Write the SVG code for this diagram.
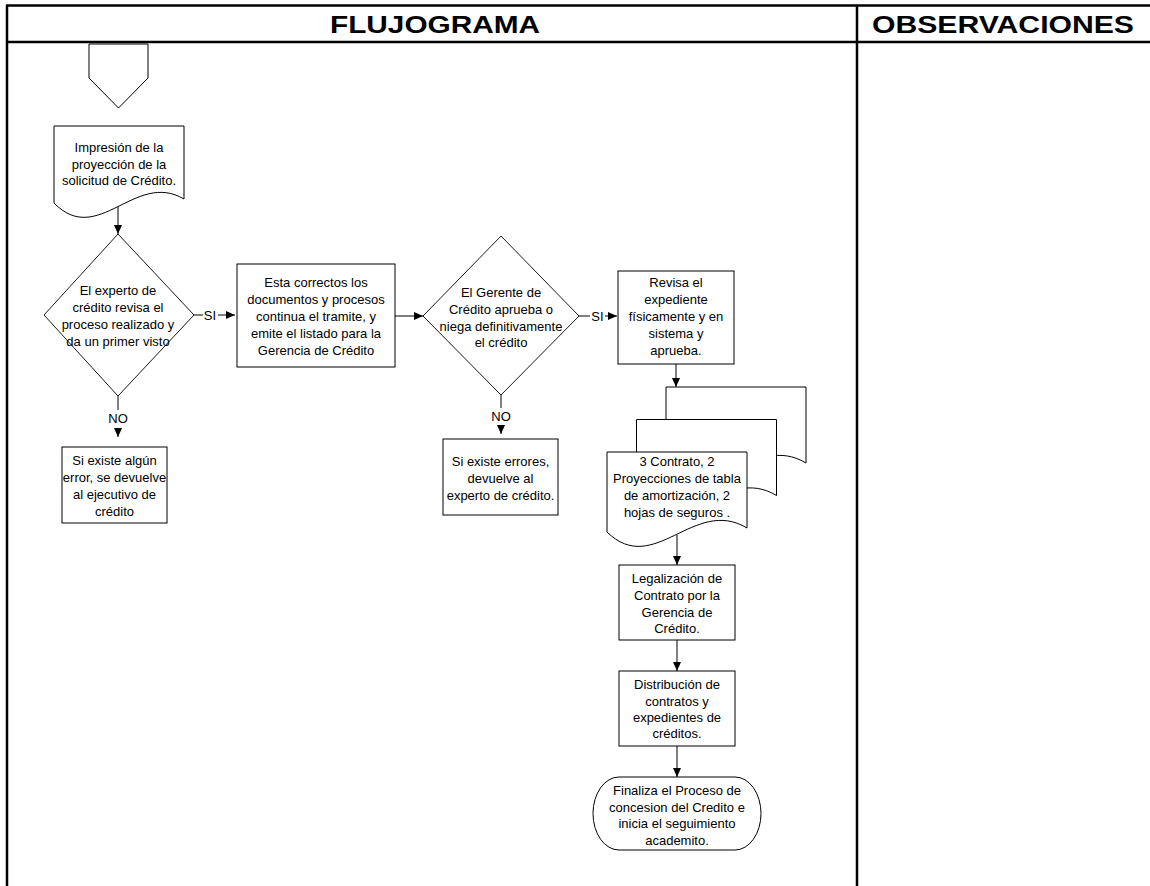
<svg xmlns="http://www.w3.org/2000/svg" width="1150" height="886" viewBox="0 0 1150 886">
  <style>
    .frame { stroke: #000; stroke-width: 2.5; fill: none; }
    .shape { stroke: #000; stroke-width: 1; fill: #fff; }
    .diamond { stroke: #000; stroke-width: 0.9; fill: #fff; }
    .head { font-family: "Liberation Sans", Arial, sans-serif; font-weight: bold; font-size: 24px; fill: #000; text-anchor: middle; }
    .lbl { font-family: "Liberation Sans", Arial, sans-serif; font-size: 13px; fill: #000; text-anchor: middle; }
    .conn { stroke: #000; stroke-width: 1; fill: none; }
  </style>
  <defs>
    <marker id="arrow" markerUnits="userSpaceOnUse" markerWidth="9" markerHeight="8" refX="9" refY="4" orient="auto">
      <path d="M0,0 L9,4 L0,8 Z" fill="#000"/>
    </marker>
    <!-- single page of the multi-document stack, origin at top-left -->
    <path id="page" d="M0,0 H140 V76 C87,44 47,126 0,80 Z"/>
  </defs>

  <rect width="1150" height="886" fill="#fff"/>

  <!-- table frame -->
  <g id="table">
    <line class="frame" x1="6" y1="5.5" x2="1150" y2="5.5"/>
    <line class="frame" x1="6" y1="42" x2="1150" y2="42"/>
    <line class="frame" x1="7" y1="5" x2="7" y2="886"/>
    <line class="frame" x1="857" y1="5" x2="857" y2="886"/>
    <text class="head" x="435" y="33" textLength="210" lengthAdjust="spacingAndGlyphs">FLUJOGRAMA</text>
    <text class="head" x="1003" y="33" textLength="262" lengthAdjust="spacingAndGlyphs">OBSERVACIONES</text>
  </g>

  <!-- connectors -->
  <g id="connectors">
    <line class="conn" x1="118" y1="207" x2="118" y2="234" marker-end="url(#arrow)"/>
    <line class="conn" x1="194" y1="315" x2="203" y2="315"/>
    <line class="conn" x1="218" y1="315" x2="235" y2="315" marker-end="url(#arrow)"/>
    <line class="conn" x1="118" y1="396" x2="118" y2="410"/>
    <line class="conn" x1="118" y1="428" x2="118" y2="437" marker-end="url(#arrow)"/>
    <line class="conn" x1="395" y1="316" x2="423" y2="316" marker-end="url(#arrow)"/>
    <line class="conn" x1="579" y1="316" x2="590" y2="316"/>
    <line class="conn" x1="605" y1="316" x2="617" y2="316" marker-end="url(#arrow)"/>
    <line class="conn" x1="501" y1="395" x2="501" y2="408"/>
    <line class="conn" x1="501" y1="425" x2="501" y2="434" marker-end="url(#arrow)"/>
    <line class="conn" x1="676" y1="364" x2="676" y2="387" marker-end="url(#arrow)"/>
    <line class="conn" x1="677" y1="535" x2="677" y2="565" marker-end="url(#arrow)"/>
    <line class="conn" x1="677" y1="640" x2="677" y2="671" marker-end="url(#arrow)"/>
    <line class="conn" x1="677" y1="746" x2="677" y2="777" marker-end="url(#arrow)"/>
    <text class="lbl" x="210" y="320">SI</text>
    <text class="lbl" x="597.5" y="321">SI</text>
    <text class="lbl" x="118" y="423">NO</text>
    <text class="lbl" x="501" y="421">NO</text>
  </g>

  <!-- off-page connector -->
  <g id="start">
    <polygon class="shape" points="89,44 148,44 148,78 118.5,108 89,78"/>
  </g>

  <!-- printed credit projection -->
  <g id="doc-impresion">
    <path class="shape" d="M54,126 H184 V199 C135,170 98,248 54,203 Z"/>
    <text class="lbl" x="119" y="152">Impresión de la</text>
    <text class="lbl" x="119" y="168.5">proyección de la</text>
    <text class="lbl" x="119" y="185">solicitud de Crédito.</text>
  </g>

  <g id="dec-experto">
    <polygon class="diamond" points="118,234 194,315 118,396 44,315"/>
    <text class="lbl" x="118" y="295">El experto de</text>
    <text class="lbl" x="118" y="312">crédito revisa el</text>
    <text class="lbl" x="118" y="329">proceso realizado y</text>
    <text class="lbl" x="118" y="346">da un primer visto</text>
  </g>

  <g id="box-devuelve-ejecutivo">
    <rect class="shape" x="62" y="447" width="105" height="76"/>
    <text class="lbl" x="114.5" y="465">Si existe algún</text>
    <text class="lbl" x="114.5" y="482">error, se devuelve</text>
    <text class="lbl" x="114.5" y="499">al ejecutivo de</text>
    <text class="lbl" x="114.5" y="516">crédito</text>
  </g>

  <g id="box-listado">
    <rect class="shape" x="237" y="264" width="158" height="103"/>
    <text class="lbl" x="316" y="287">Esta correctos los</text>
    <text class="lbl" x="316" y="304">documentos y procesos</text>
    <text class="lbl" x="316" y="321">continua el tramite, y</text>
    <text class="lbl" x="316" y="338">emite el listado para la</text>
    <text class="lbl" x="316" y="355">Gerencia de Crédito</text>
  </g>

  <g id="dec-gerente">
    <polygon class="diamond" points="501,236 579,316 501,395 423,316"/>
    <text class="lbl" x="501" y="297">El Gerente de</text>
    <text class="lbl" x="501" y="314">Crédito aprueba o</text>
    <text class="lbl" x="501" y="331">niega definitivamente</text>
    <text class="lbl" x="501" y="347">el crédito</text>
  </g>

  <g id="box-devuelve-experto">
    <rect class="shape" x="443" y="439" width="115" height="76"/>
    <text class="lbl" x="500.5" y="466">Si existe errores,</text>
    <text class="lbl" x="500.5" y="483">devuelve al</text>
    <text class="lbl" x="500.5" y="500">experto de crédito.</text>
  </g>

  <g id="box-revisa">
    <rect class="shape" x="618" y="271" width="116" height="93"/>
    <text class="lbl" x="676" y="287">Revisa el</text>
    <text class="lbl" x="676" y="304">expediente</text>
    <text class="lbl" x="676" y="321">físicamente y en</text>
    <text class="lbl" x="676" y="338">sistema y</text>
    <text class="lbl" x="676" y="355">aprueba.</text>
  </g>

  <g id="docs-contratos">
    <use href="#page" class="shape" transform="translate(666,387)"/>
    <use href="#page" class="shape" transform="translate(636.5,419.5)"/>
    <use href="#page" class="shape" transform="translate(607,452)"/>
    <text class="lbl" x="677" y="466">3 Contrato, 2</text>
    <text class="lbl" x="677" y="483">Proyecciones de tabla</text>
    <text class="lbl" x="677" y="500">de amortización, 2</text>
    <text class="lbl" x="677" y="517">hojas de seguros .</text>
  </g>

  <g id="box-legalizacion">
    <rect class="shape" x="619" y="565" width="116" height="75"/>
    <text class="lbl" x="677" y="583">Legalización de</text>
    <text class="lbl" x="677" y="600">Contrato por la</text>
    <text class="lbl" x="677" y="617">Gerencia de</text>
    <text class="lbl" x="677" y="633">Crédito.</text>
  </g>

  <g id="box-distribucion">
    <rect class="shape" x="619" y="671" width="116" height="75"/>
    <text class="lbl" x="677" y="689">Distribución de</text>
    <text class="lbl" x="677" y="706">contratos y</text>
    <text class="lbl" x="677" y="722">expedientes de</text>
    <text class="lbl" x="677" y="738">créditos.</text>
  </g>

  <g id="end">
    <rect class="shape" x="593" y="777" width="168" height="73" rx="26" ry="36.5"/>
    <text class="lbl" x="677" y="795">Finaliza el Proceso de</text>
    <text class="lbl" x="677" y="812">concesion del Credito e</text>
    <text class="lbl" x="677" y="828">inicia el seguimiento</text>
    <text class="lbl" x="677" y="845">academito.</text>
  </g>
</svg>
